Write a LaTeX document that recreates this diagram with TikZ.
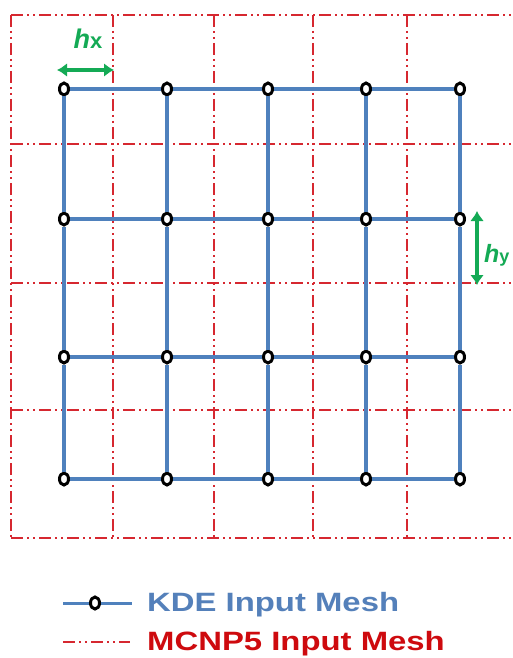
\documentclass[tikz,border=0pt]{standalone}
\usepackage{fontspec}
\setmainfont{Liberation Sans}
\usetikzlibrary{shapes.geometric,arrows.meta}
\definecolor{kdeblue}{RGB}{79,129,189}
\definecolor{kdetext}{RGB}{84,128,186}
\definecolor{mcred}{RGB}{214,40,48}
\definecolor{mctext}{RGB}{206,10,14}
\definecolor{hgreen}{RGB}{20,170,85}
\tikzset{
  kdenode/.style={ellipse,draw=black,fill=white,line width=3pt,minimum width=9pt,minimum height=12pt,inner sep=0pt},
  kdeline/.style={draw=kdeblue,line width=3.4pt},
  mcline/.style={draw=mcred,line width=2pt,dash pattern=on 12pt off 4pt on 2pt off 4pt on 2pt off 4pt},
  harrow/.style={draw=hgreen,line width=4pt,{Latex[length=10pt,width=14pt]}-{Latex[length=10pt,width=14pt]}},
  htext/.style={text=hgreen,font=\bfseries,inner sep=0pt},
  legtext/.style={font=\bfseries\fontsize{26.5}{30}\selectfont,inner sep=0pt,anchor=base west}
}
\begin{document}
\begin{tikzpicture}[x=1pt,y=-1pt]
\useasboundingbox (0,0) rectangle (512,658);
\fill[white] (0,0) rectangle (512,658);
% MCNP5 grid
\foreach \x [count=\i] in {11,113,214,313,407} {
  \coordinate (vt\i) at (\x,15);
  \coordinate (vb\i) at (\x,538);
  \draw[mcline] (vt\i) -- (vb\i);
}
\foreach \y [count=\j] in {15,144,283,410,538} {
  \coordinate (hl\j) at (11,\y);
  \coordinate (hr\j) at (512,\y);
  \draw[mcline] (hl\j) -- (hr\j);
}
% KDE mesh nodes
\foreach \x [count=\i] in {64,167,268,366,460} {
  \foreach \y [count=\j] in {89,219,357,479} {
    \node[kdenode] (n-\i-\j) at (\x,\y) {};
  }
}
\foreach \j in {1,2,3,4} {
  \foreach \i [evaluate=\i as \k using int(\i+1)] in {1,2,3,4} {
    \draw[kdeline] (n-\i-\j) -- (n-\k-\j);
  }
}
\foreach \i in {1,...,5} {
  \foreach \j [evaluate=\j as \k using int(\j+1)] in {1,2,3} {
    \draw[kdeline] (n-\i-\j) -- (n-\i-\k);
  }
}
% h_x
\coordinate (hxa) at (57,70);
\coordinate (hxb) at (114,70);
\draw[harrow] (hxa) -- (hxb);
\node[htext,anchor=base] (hxlabel) at (88,49) {\fontsize{27}{30}\selectfont\itshape h\fontsize{22}{24}\selectfont\upshape x};
% h_y
\coordinate (hya) at (477,211);
\coordinate (hyb) at (477,285);
\draw[harrow] (hya) -- (hyb);
\node[htext,anchor=base west] (hylabel) at (484,262) {\fontsize{25}{28}\selectfont\itshape h\fontsize{18}{20}\selectfont\upshape y};
% legend
\coordinate (lka) at (63,603);
\coordinate (lkb) at (132,603);
\node[kdenode] (legk) at (95,603) {};
\draw[kdeline,line width=3pt] (lka) -- (legk) (legk) -- (lkb);
\node[legtext,text=kdetext] (kdelabel) at (147,611) {\scalebox{1.24}[1]{KDE Input Mesh}};
\coordinate (lma) at (63,642);
\coordinate (lmb) at (130,642);
\draw[mcline] (lma) -- (lmb);
\node[legtext,text=mctext] (mclabel) at (147,650) {\scalebox{1.24}[1]{MCNP5 Input Mesh}};
\end{tikzpicture}
\end{document}
